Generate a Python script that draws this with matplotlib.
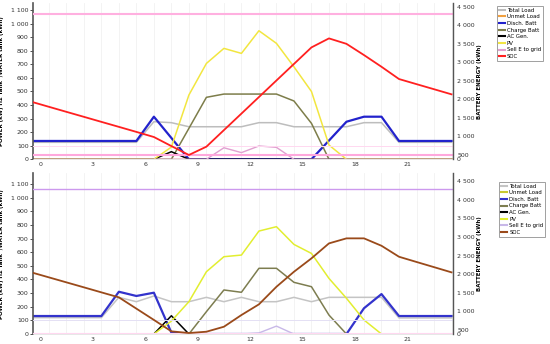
import numpy as np
import matplotlib
matplotlib.use("Agg")
import matplotlib.pyplot as plt
from matplotlib.ticker import FuncFormatter

# hours (points sit half-way between the hour ticks)
hours = np.arange(25) - 0.5
labels = ["Total Load", "Unmet Load", "Disch. Batt", "Charge Batt", "AC Gen.", "PV", "Sell E to grid", "SOC"]

# ---- top day ----
top_total = [125, 125, 125, 125, 125, 125, 125, 277, 270, 240, 240, 240, 240, 270, 270, 240, 240, 240, 240, 270, 270, 125, 125, 125, 125]
top_unmet = [0] * 25
top_disch = [135, 135, 135, 135, 135, 135, 135, 314, 157, 0, 0, 0, 0, 0, 0, 0, 0, 138, 277, 314, 314, 135, 135, 135, 135]
top_charge = [0, 0, 0, 0, 0, 0, 0, 0, 0, 228, 457, 481, 481, 481, 481, 430, 265, 0, 0, 0, 0, 0, 0, 0, 0]
top_acgen = [0, 0, 0, 0, 0, 0, 0, 0, 56, 0, 0, 0, 0, 0, 0, 0, 0, 0, 0, 0, 0, 0, 0, 0, 0]
top_pv = [0, 0, 0, 0, 0, 0, 0, 0, 90, 474, 707, 818, 781, 948, 855, 682, 500, 105, 0, 0, 0, 0, 0, 0, 0]
top_sell = [0, 0, 0, 0, 0, 0, 0, 0, 0, 0, 0, 85, 49, 98, 88, 0, 0, 0, 0, 0, 0, 0, 0, 0, 0]
top_soc = [1937, 1801, 1665, 1530, 1394, 1259, 1123, 985, 740, 500, 724, 1171, 1617, 2064, 2511, 2957, 3404, 3647, 3500, 3197, 2881, 2550, 2412, 2275, 2137]

# ---- bottom day ----
bot_total = [120, 120, 120, 120, 120, 269, 237, 279, 237, 237, 269, 237, 269, 237, 237, 269, 237, 269, 269, 269, 269, 118, 118, 118, 118]
bot_unmet = [0] * 25
bot_disch = [132, 132, 132, 132, 132, 310, 279, 303, 10, 0, 0, 0, 0, 0, 0, 0, 0, 0, 0, 189, 293, 132, 132, 132, 132]
bot_charge = [0, 0, 0, 0, 0, 0, 0, 0, 0, 0, 164, 323, 306, 482, 482, 379, 347, 139, 0, 0, 0, 0, 0, 0, 0]
bot_acgen = [0, 0, 0, 0, 0, 0, 0, 0, 134, 0, 0, 0, 0, 0, 0, 0, 0, 0, 0, 0, 0, 0, 0, 0, 0]
bot_pv = [0, 0, 0, 0, 0, 0, 0, 0, 95, 237, 457, 567, 579, 755, 787, 657, 591, 408, 262, 103, 0, 0, 0, 0, 0]
bot_sell = [0, 0, 0, 0, 0, 0, 0, 0, 0, 0, 0, 0, 0, 8, 58, 0, 0, 0, 0, 0, 0, 0, 0, 0, 0]
bot_soc = [2049, 1915, 1781, 1647, 1512, 1378, 1075, 772, 465, 420, 455, 589, 903, 1190, 1662, 2065, 2425, 2827, 2962, 2962, 2763, 2468, 2328, 2189, 2049]

top_colors = ["#bdbdbd", "#f0a040", "#2222cc", "#7d7d4a", "#000000", "#f2e640", "#e0a0d0", "#ff2020"]
bot_colors = ["#c4c4c4", "#c8c830", "#3333cc", "#7d7d50", "#000000", "#e2ee30", "#c8b8e8", "#9a4a1a"]


def spaced(v, pos):
    return f"{int(v):,}".replace(",", " ")


def panel(rect, series, soc, colors, ref_lines, ylims, leg_anchor):
    ax = fig.add_axes(rect)
    widths = [1.1, 1.0, 1.6, 1.1, 1.1, 1.1, 1.0]
    handles = []
    for vals, c, lw, lab in zip(series, colors[:7], widths, labels[:7]):
        h, = ax.plot(hours, vals, color=c, lw=lw, label=lab)
        handles.append(h)
    ax.set_xlim(-0.42, 23.58)
    ax.set_ylim(0, ylims[0])
    ax.set_yticks(range(0, 1200, 100))
    ax.yaxis.set_major_formatter(FuncFormatter(spaced))
    ax.set_xticks(range(0, 24, 3))
    ax.set_xticks(np.arange(0.5, 24, 1), minor=True)
    ax.grid(True, which="minor", axis="x", color="#eeeeee", lw=0.5)
    ax.tick_params(axis="y", labelsize=4.5, length=2, width=0.6, pad=1, colors="#333333")
    ax.tick_params(axis="x", which="both", labelsize=4.5, length=0, pad=2, colors="#333333")
    for s in ["top", "right"]:
        ax.spines[s].set_visible(False)
    ax.spines["left"].set_color("#555555")
    ax.spines["left"].set_linewidth(1.2)
    ax.spines["bottom"].set_color("#dddddd")
    ax.spines["bottom"].set_linewidth(0.5)
    ax.set_ylabel("POWER (kW) H2 Tank  /WATER tank (kWh)", fontsize=4, fontweight="bold", labelpad=5)

    ax2 = ax.twinx()
    for val, c, lw in ref_lines:
        ax2.axhline(val, color=c, lw=lw, zorder=1)
    h, = ax2.plot(hours, soc, color=colors[7], lw=1.3, label=labels[7])
    handles.append(h)
    ax2.set_ylim(ylims[1], ylims[2])
    ax2.set_yticks([ylims[1]] + list(range(500, 5000, 500)))
    ax2.set_yticklabels(["0"] + [spaced(v, None) for v in range(500, 5000, 500)])
    ax2.tick_params(axis="y", labelsize=4.5, length=0, pad=3, colors="#333333")
    for s in ["top", "left", "bottom"]:
        ax2.spines[s].set_visible(False)
    ax2.spines["right"].set_color("#555555")
    ax2.spines["right"].set_linewidth(1.0)
    ax2.set_ylabel("BATTERY ENERGY (kWh)", fontsize=4, fontweight="bold", labelpad=2)

    leg = fig.legend(handles=handles, loc="upper left", bbox_to_anchor=leg_anchor, fontsize=3.9,
                     frameon=True, fancybox=False, borderpad=0.35, labelspacing=0.3,
                     handlelength=1.2, handletextpad=0.35, borderaxespad=0)
    leg.get_frame().set_edgecolor("#888888")
    leg.get_frame().set_linewidth(0.7)
    for line in leg.get_lines():
        line.set_linewidth(1.5)
    return ax


fig = plt.figure(figsize=(5.5, 3.44), dpi=100)

panel([0.0595, 0.537, 0.764, 0.454],
      [top_total, top_unmet, top_disch, top_charge, top_acgen, top_pv, top_sell], top_soc, top_colors,
      [(4300, "#ffb0e0", 1.5), (510, "#ffa8dd", 1.5), (750, "#ffd8f0", 0.7)],
      (1152, 384, 4600), (0.903, 0.983))

panel([0.0595, 0.029, 0.764, 0.467],
      [bot_total, bot_unmet, bot_disch, bot_charge, bot_acgen, bot_pv, bot_sell], bot_soc, bot_colors,
      [(4300, "#cc99ee", 1.0), (760, "#e4e0f4", 0.7), (420, "#ffd8f0", 0.8)],
      (1178, 393, 4707), (0.907, 0.472))

fig.savefig("out.png", dpi=100)
